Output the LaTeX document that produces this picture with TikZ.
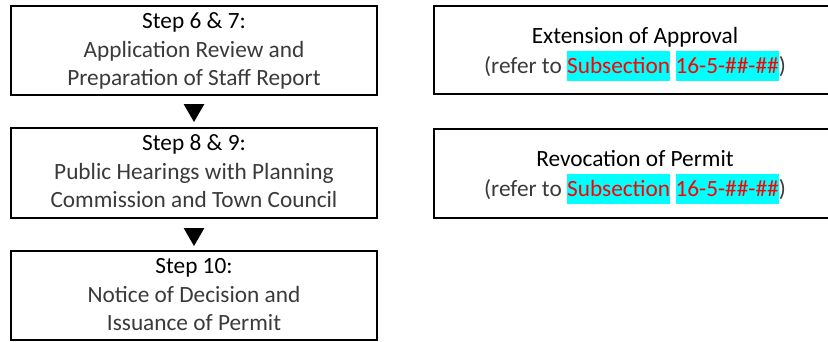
\documentclass[tikz,border=0pt]{standalone}
\usepackage{fontspec}
\setmainfont{Carlito}
\usetikzlibrary{calc,shapes.geometric}

\definecolor{hlcyan}{HTML}{00FFFF}
\definecolor{refred}{HTML}{FF0000}
\definecolor{bodygray}{HTML}{3A3A3A}

% highlighted cross-reference (cyan background, red text)
\newcommand\hlref[1]{{\setlength{\fboxsep}{0pt}\colorbox{hlcyan}{\rule[-8pt]{0pt}{30pt}\textcolor{refred}{#1}}}}

\begin{document}
\begin{tikzpicture}[x=1pt,y=-1pt,
  stepbox/.style={draw=black,line width=2pt,rectangle,inner sep=0pt,outer sep=0pt},
  headline/.style={anchor=base,inner sep=0pt,font=\fontsize{23.3}{28}\selectfont,text=black},
  bodyline/.style={anchor=base,inner sep=0pt,font=\fontsize{23.3}{28}\selectfont,text=bodygray},
  marker/.style={regular polygon,regular polygon sides=3,shape border rotate=180,
                 fill=black,inner sep=0pt,outer sep=0pt,minimum size=24pt}]
\useasboundingbox (0,0) rectangle (828,341);
\clip (0,0) rectangle (828,341);
\fill[white] (0,0) rectangle (828,341);

% ---- process steps (left column) ----
\node[stepbox,minimum width=366pt,minimum height=89pt] (b1) at (194,50.5) {};
\node[stepbox,minimum width=366pt,minimum height=90pt] (b2) at (194,173) {};
\node[stepbox,minimum width=366pt,minimum height=89pt] (b3) at (194,295.5) {};

\node[headline] (b1h) at ($(b1.north)+(0,22.5)$) {Step 6 \& 7:};
\node[bodyline] (b1a) at ($(b1.north)+(0,51.5)$) {Application Review and};
\node[bodyline] (b1b) at ($(b1.north)+(0,79.5)$) {Preparation of Staff Report};

\node[headline] (b2h) at ($(b2.north)+(0,22.5)$) {Step 8 \& 9:};
\node[bodyline] (b2a) at ($(b2.north)+(0,51.5)$) {Public Hearings with Planning};
\node[bodyline] (b2b) at ($(b2.north)+(0,79.5)$) {Commission and Town Council};

\node[headline] (b3h) at ($(b3.north)+(0,22.5)$) {Step 10:};
\node[bodyline] (b3a) at ($(b3.north)+(0,51.5)$) {Notice of Decision and};
\node[bodyline] (b3b) at ($(b3.north)+(0,79.5)$) {Issuance of Permit};

% ---- flow markers between steps ----
\node[marker] (m12) at ($(b1.south)!0.5!(b2.north)+(0,-1.5)$) {};
\node[marker] (m23) at ($(b2.south)!0.5!(b3.north)+(0,-0.5)$) {};

% ---- related procedures (right column) ----
\node[stepbox,minimum width=402pt,minimum height=88pt] (ra) at (635,50) {};
\node[stepbox,minimum width=402pt,minimum height=89pt] (rb) at (635,173.5) {};

\node[headline] (rah) at ($(ra.north)+(0,37)$) {Extension of Approval};
\node[bodyline] (rar) at ($(ra.north)+(0,67)$) {(refer to \hlref{Subsection} \hlref{16-5-\#\#-\#\#})};

\node[headline] (rbh) at ($(rb.north)+(0,37)$) {Revocation of Permit};
\node[bodyline] (rbr) at ($(rb.north)+(0,67)$) {(refer to \hlref{Subsection} \hlref{16-5-\#\#-\#\#})};
\end{tikzpicture}
\end{document}
